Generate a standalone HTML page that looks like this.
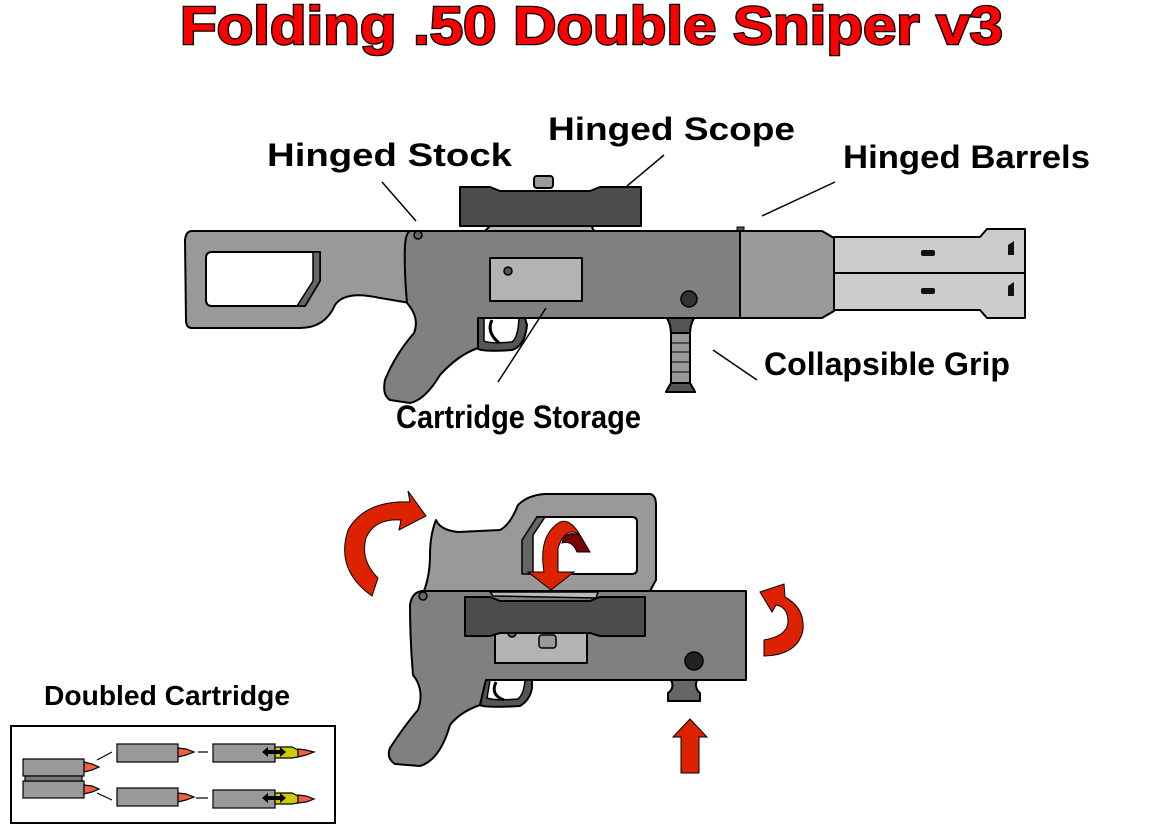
<!DOCTYPE html>
<html><head><meta charset="utf-8"><style>
html,body{margin:0;padding:0;background:#fff;}
svg{display:block;}
text{font-family:"Liberation Sans",sans-serif;font-weight:bold;}
</style></head><body>
<svg width="1152" height="828" viewBox="0 0 1152 828" xmlns="http://www.w3.org/2000/svg">
<text x="180" y="44" font-size="54" fill="#ff0000" stroke="#000" stroke-width="2.5" paint-order="stroke" textLength="823" lengthAdjust="spacingAndGlyphs">Folding .50 Double Sniper v3</text>

<g font-size="32" fill="#000">
<text x="267" y="166" textLength="245" lengthAdjust="spacingAndGlyphs">Hinged Stock</text>
<text x="548" y="140" textLength="247" lengthAdjust="spacingAndGlyphs">Hinged Scope</text>
<text x="843" y="168" textLength="247" lengthAdjust="spacingAndGlyphs">Hinged Barrels</text>
<text x="764" y="375" textLength="246" lengthAdjust="spacingAndGlyphs">Collapsible Grip</text>
<text x="396" y="428" textLength="245" lengthAdjust="spacingAndGlyphs">Cartridge Storage</text>
<text x="44" y="705" font-size="28" textLength="246" lengthAdjust="spacingAndGlyphs">Doubled Cartridge</text>
</g>
<g stroke="#000" stroke-width="1.5">
<line x1="382" y1="182" x2="416" y2="221"/>
<line x1="664" y1="155" x2="627" y2="186"/>
<line x1="835" y1="182" x2="762" y2="216"/>
<line x1="713" y1="350" x2="757" y2="380"/>
</g>

<!-- TOP GUN -->
<g stroke="#000" stroke-width="2" stroke-linejoin="round">
<path d="M834,237 L980,237 L987,229 L1025,229 L1025,318 L987,318 L980,310 L834,310 Z" fill="#cccccc"/>
<line x1="834" y1="273" x2="1025" y2="273"/>
<rect x="921" y="250" width="14" height="6" rx="2" fill="#111" stroke="none"/>
<rect x="921" y="288" width="14" height="6" rx="2" fill="#111" stroke="none"/>
<path d="M1014,241 L1014,255 L1008,255 L1008,245 Z" fill="#111" stroke="none"/>
<path d="M1014,282 L1014,296 L1008,296 L1008,286 Z" fill="#111" stroke="none"/>
<rect x="737" y="227" width="7" height="5" fill="#555" stroke-width="1"/>
<path d="M740,231 L822,231 L834,238 L834,311 L822,318 L740,318 Z" fill="#999999"/>
<path d="M485,231 L493,223 L590,223 L594,231 Z" fill="#bbbbbb"/>
<rect x="534" y="176" width="19" height="12" rx="3" fill="#999"/>
<path d="M460,187 L490,187 L500,191 L590,191 L600,187 L641,187 L641,226 L460,226 Z" fill="#4d4d4d"/>
<path d="M192,231 L415,231 L410,303 L380,298 Q345,290 335,305 Q325,328 300,328 L192,328 Q186,328 186,320 L185,240 Q186,231 192,231 Z" fill="#999999"/>
<path d="M212,252 L320,252 L320,281 L305,306 L212,306 Q206,306 206,300 L206,258 Q206,252 212,252 Z" fill="#fff"/>
<path d="M313,252 L320,252 L320,281 L305,306 L297,306 L313,281 Z" fill="#666" stroke-width="1.5"/>
<path d="M410,231 L740,231 L740,318 L478,318 L478,348 Q458,355 440,375 Q425,400 410,403 L390,400 Q382,395 385,380 Q395,355 414,333 Q420,318 407,303 Q404,270 405,245 Q406,233 410,231 Z" fill="#808080"/>
<path d="M478,318 L478,349 Q485,352 512,350 Q525,346 527,325 L525,318 Z" fill="#555"/>
<path d="M484,318 L484,341 Q490,344 512,342 Q518,338 519,318 Z" fill="#fff" stroke-width="1.5"/>
<path d="M492,320 Q486,332 499,343" fill="none" stroke-width="3"/>
<line x1="478" y1="318" x2="740" y2="318"/>
<rect x="490" y="258" width="92" height="43" fill="#b3b3b3"/>
<circle cx="508" cy="271" r="4" fill="#555" stroke-width="1.5"/>
<circle cx="418" cy="235" r="4" fill="#666" stroke-width="1.5"/>
<circle cx="689" cy="299" r="8" fill="#333" stroke-width="1.5"/>
<path d="M667,318 L694,318 Q690,325 690,333 L690,383 Q693,388 695,392 L666,392 Q668,388 671,383 L671,333 Q671,325 667,318 Z" fill="#999"/>
<path d="M667,318 L694,318 Q690,325 690,333 L671,333 Q671,325 667,318 Z" fill="#555"/>
<path d="M671,383 L690,383 L695,392 L666,392 Z" fill="#555"/>
<g stroke-width="1"><line x1="671" y1="343" x2="690" y2="343"/><line x1="671" y1="352" x2="690" y2="352"/><line x1="671" y1="362" x2="690" y2="362"/><line x1="671" y1="372" x2="690" y2="372"/></g>
</g>
<line x1="546" y1="308" x2="498" y2="382" stroke="#000" stroke-width="1.5"/>

<!-- BOTTOM GUN -->
<g stroke="#000" stroke-width="2" stroke-linejoin="round">
<path d="M436,520 Q440,530 458,532 L500,530 Q510,525 518,505 Q528,495 545,494 L650,494 Q656,495 656,505 L656,580 L650,591 L424,591 Q430,575 430,555 Q430,535 436,520 Z" fill="#999999"/>
<path d="M537,517 L632,517 Q637,517 637,522 L637,569 Q637,574 632,574 L530,574 L530,530 Z" fill="#fff"/>
<path d="M537,517 L545,517 L533,535 L533,574 L522,574 L522,540 Z" fill="#666" stroke-width="1.5"/>
<path d="M671,680 L697,680 Q694,688 700,693 L700,701 L668,701 L668,693 Q675,688 671,680 Z" fill="#666"/>
<path d="M422,591 L746,591 L746,680 L486,680 L480,705 Q460,712 450,725 Q440,760 420,766 L395,764 Q386,758 390,748 Q405,725 418,710 Q425,690 413,675 Q410,640 410,605 Q412,592 422,591 Z" fill="#808080"/>
<path d="M486,680 L480,705 Q485,708 520,706 Q530,700 532,688 L532,680 Z" fill="#555"/>
<path d="M490,680 L487,698 Q495,701 518,699 Q524,694 525,680 Z" fill="#fff" stroke-width="1.5"/>
<path d="M496,682 Q490,695 504,700" fill="none" stroke-width="3"/>
<line x1="486" y1="680" x2="746" y2="680"/>
<circle cx="423" cy="596" r="4" fill="#666" stroke-width="1.5"/>
<rect x="495" y="632" width="92" height="31" fill="#b3b3b3"/>
<circle cx="512" cy="633" r="4" fill="#666" stroke-width="1.5"/>
<path d="M490,592 L493,596 L596,598 L598,592 Z" fill="#bbb" stroke-width="1.5"/>
<path d="M465,597 L490,597 L500,601 L590,601 L600,597 L645,597 L645,636 L600,636 L590,633 L500,633 L490,636 L465,636 Z" fill="#4d4d4d"/>
<rect x="539" y="635" width="17" height="13" rx="3" fill="#999" stroke-width="1.5"/>
<circle cx="694" cy="661" r="9" fill="#222" stroke-width="1.5"/>
</g>

<!-- red arrows -->
<g fill="#dd2200" stroke="#000" stroke-width="1">
<path d="M372,596 Q335,570 348,530 Q365,500 410,502 L408,491 L426,516 L399,530 L401,520 Q375,518 366,538 Q360,560 378,578 Z"/>
<path d="M760,592 L784,584 L785,597 Q805,608 803,630 Q798,655 764,656 L764,640 Q787,636 788,622 Q788,607 776,605 L772,612 Z"/>
<path d="M562,543 Q565,530 580,535 L590,552 L577,552 Q572,540 562,543 Z" fill="#7a0000"/>
<path d="M528,572 L544,572 Q538,535 560,522 Q570,518 580,535 Q566,525 558,548 L558,572 L574,572 L551,590 Z"/>
<path d="M681,773 L681,737 L673,737 L690,719 L707,737 L699,737 L699,773 Z"/>
</g>

<rect x="11" y="726" width="324" height="97" fill="#fff" stroke="#000" stroke-width="2"/>
<g stroke="#000" stroke-width="1.2">
<line x1="97" y1="760" x2="112" y2="752"/><line x1="97" y1="793" x2="112" y2="800"/>
<line x1="198" y1="752" x2="208" y2="752"/><line x1="196" y1="798" x2="208" y2="798"/>
<rect x="23" y="759" width="61" height="17" fill="#999"/>
<rect x="23" y="781" width="61" height="17" fill="#999"/>
<rect x="25" y="776" width="57" height="5" fill="#777"/>
<path d="M84,762 L92,764 L99,767 L92,770 L84,772 Z" fill="#f06040"/>
<path d="M84,785 L92,786 L99,789 L92,792 L84,794 Z" fill="#f06040"/>
<rect x="117" y="744" width="61" height="18" fill="#999"/>
<rect x="117" y="788" width="61" height="18" fill="#999"/>
<path d="M178,748 L186,749 L194,752 L186,755 L178,757 Z" fill="#f06040"/>
<path d="M178,793 L186,794 L194,797 L186,800 L178,802 Z" fill="#f06040"/>
<rect x="213" y="744" width="62" height="18" fill="#999"/>
<rect x="213" y="790" width="62" height="18" fill="#999"/>
<path d="M275,747 L292,747 L298,750 L298,757 L292,758 L275,758 Z" fill="#cccc00"/>
<path d="M275,793 L292,793 L298,796 L298,803 L292,804 L275,804 Z" fill="#cccc00"/>
<path d="M298,749 L306,750 L314,752 L306,755 L298,757 Z" fill="#f06040"/>
<path d="M298,795 L306,796 L314,799 L306,802 L298,803 Z" fill="#f06040"/>
</g>
<g fill="#000">
<path d="M262,752 L268,747 L268,750 L280,750 L280,747 L286,752 L280,757 L280,754 L268,754 L268,757 Z"/>
<path d="M262,798 L268,793 L268,796 L280,796 L280,793 L286,798 L280,803 L280,800 L268,800 L268,803 Z"/>
</g>
</svg>
</body></html>
